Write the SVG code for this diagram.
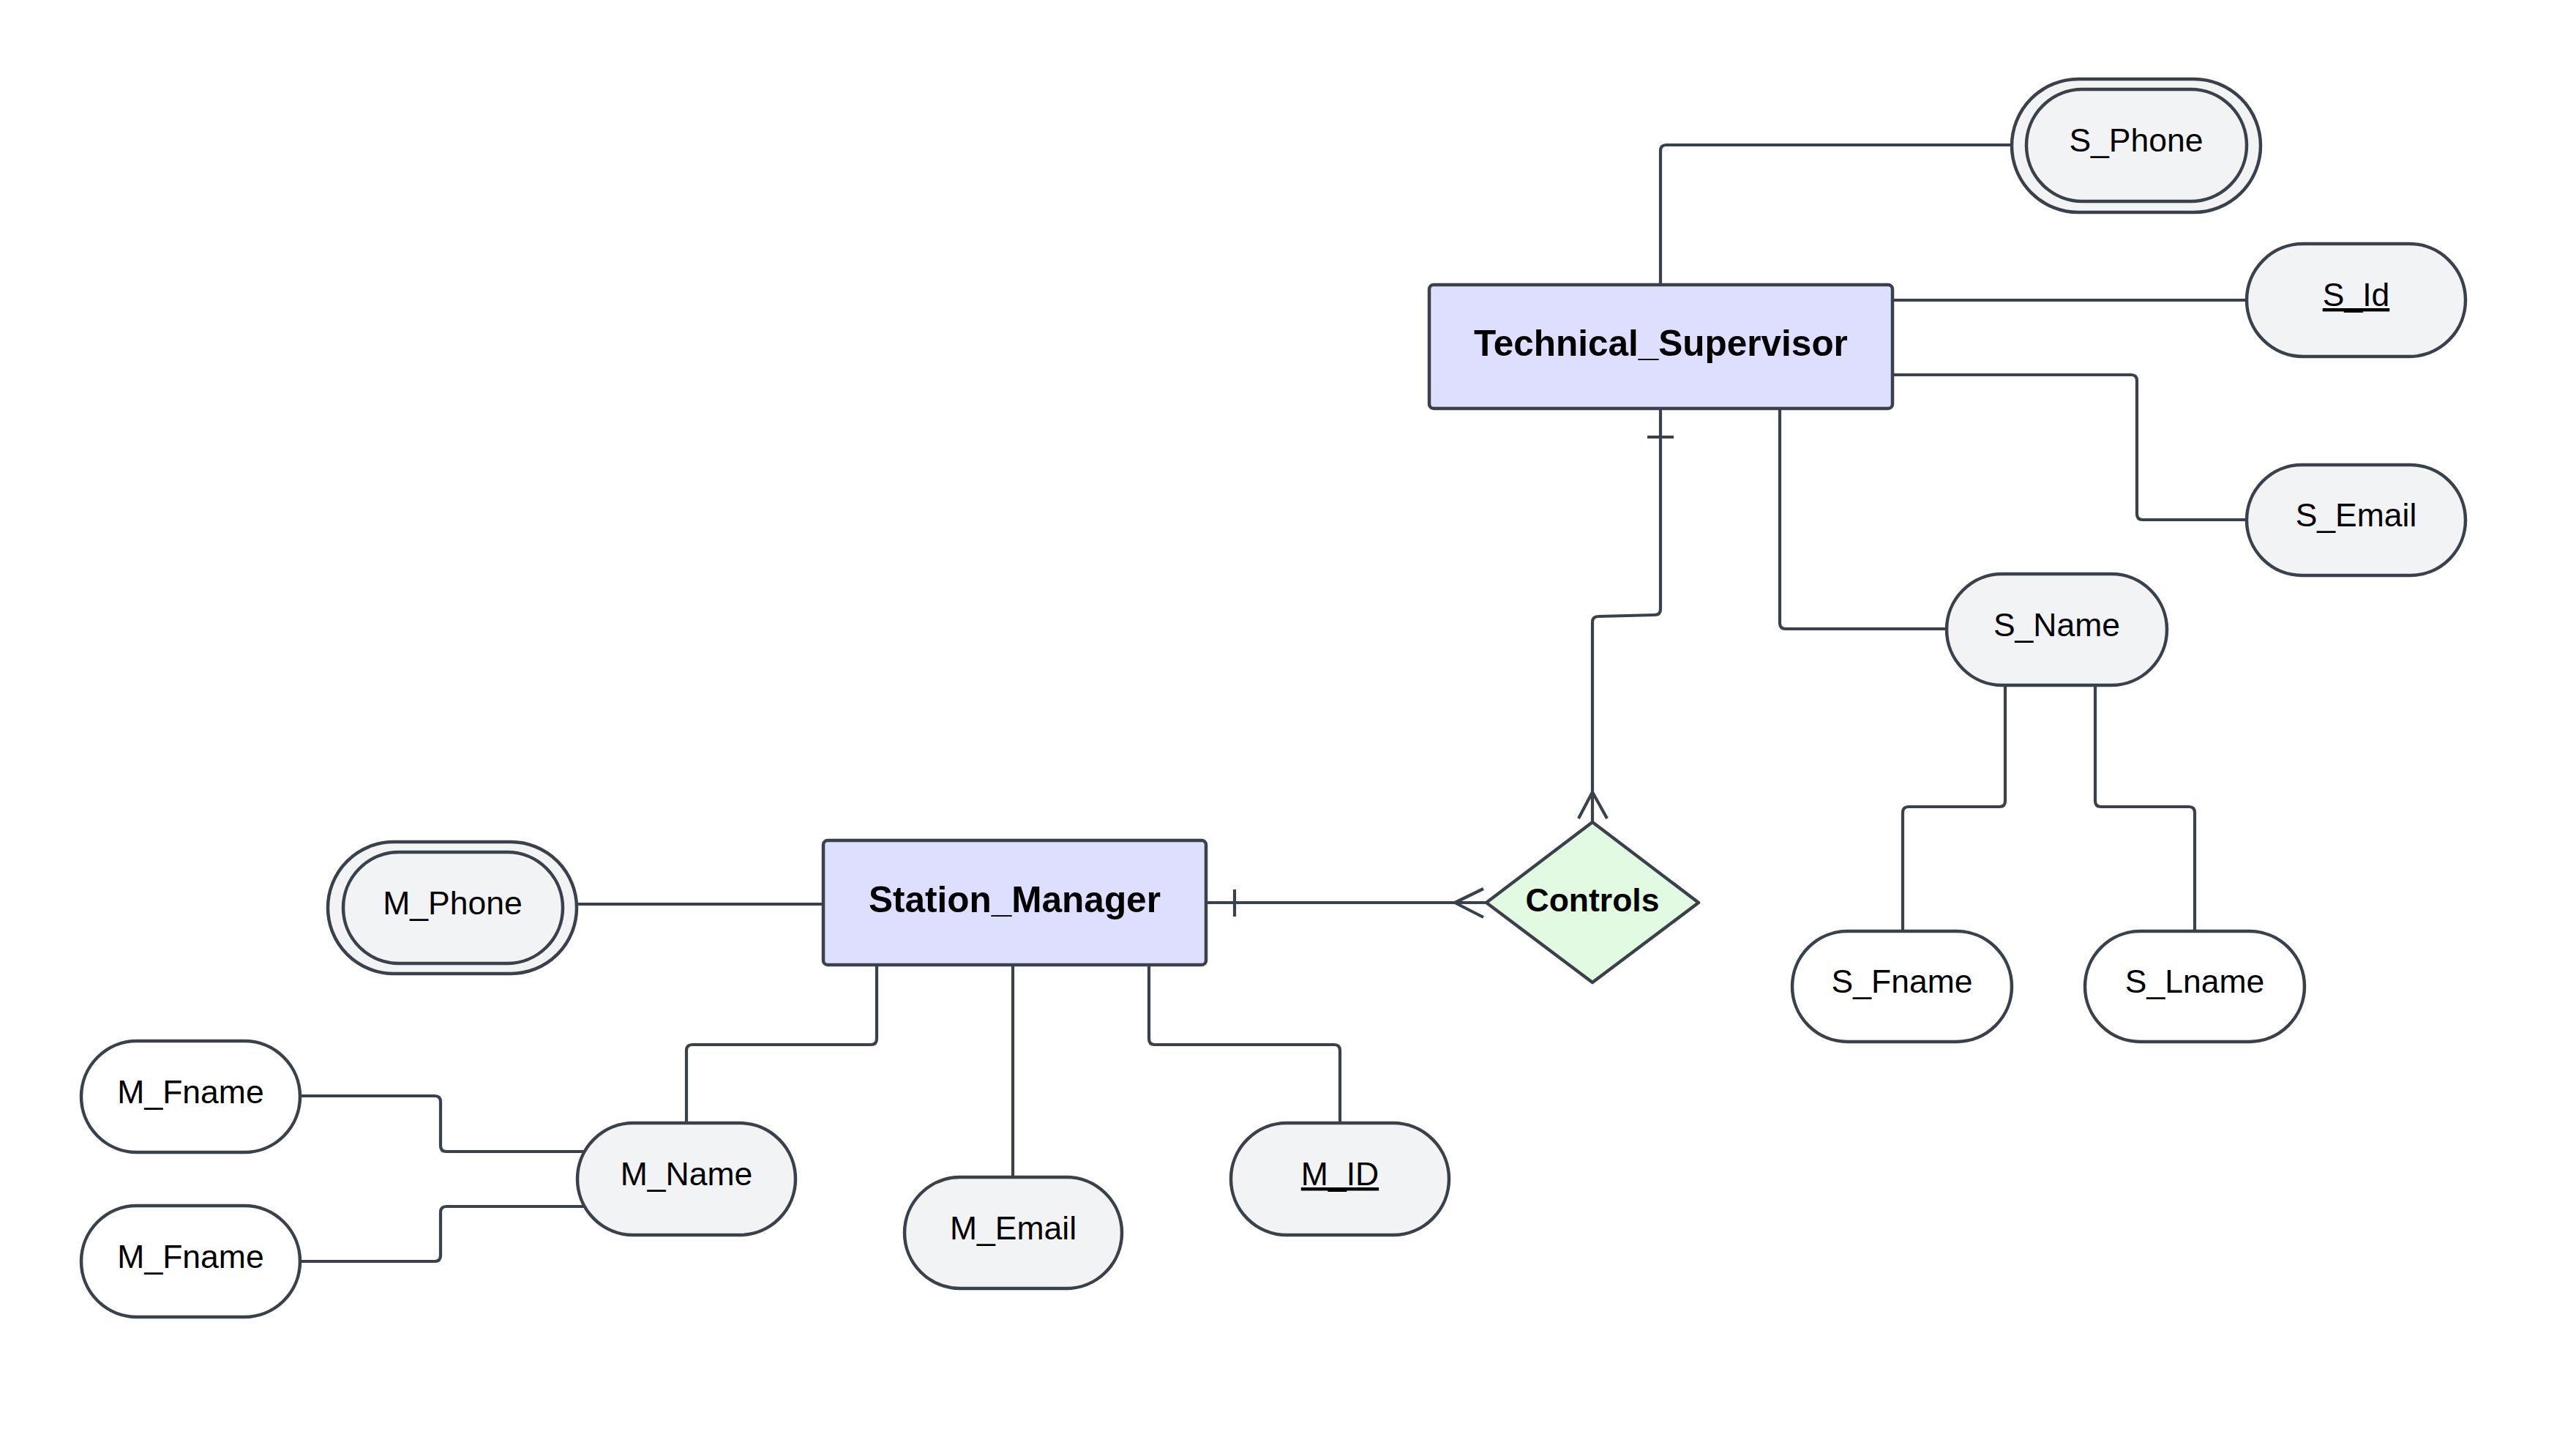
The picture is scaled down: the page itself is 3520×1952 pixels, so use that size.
<svg xmlns="http://www.w3.org/2000/svg" width="3520" height="1952" viewBox="0 0 3520 1952">
<style>
.ent{fill:#dedeff;stroke:#3a414a;stroke-width:4.5}
.att{fill:#f2f3f5;stroke:#3a414a;stroke-width:4.5}
.attw{fill:#ffffff;stroke:#3a414a;stroke-width:4.5}
.rel{fill:#e2f9e2;stroke:#3a414a;stroke-width:4.5;stroke-linejoin:round}
.con path{fill:none;stroke:#3a414a;stroke-width:4.2;stroke-linejoin:round}
.t{font-family:"Liberation Sans",Arial,sans-serif;font-size:44.5px;fill:#000;text-anchor:middle}
.tb{font-family:"Liberation Sans",Arial,sans-serif;font-size:49.5px;font-weight:bold;fill:#000;text-anchor:middle}
.tr{font-family:"Liberation Sans",Arial,sans-serif;font-size:44.5px;font-weight:bold;fill:#000;text-anchor:middle}
</style>
<rect width="3520" height="1952" fill="#ffffff"/>
<g class="con" id="connectors">
<path d="M2269,389 V206 Q2269,198 2277,198 H2749"/>
<path d="M2586,410 H3070"/>
<path d="M2586,512 H2912 Q2920,512 2920,520 V702 Q2920,710 2928,710 H3070"/>
<path d="M2432,558 V851 Q2432,859 2440,859 H2660"/>
<path d="M2740,936 V1094 Q2740,1102 2732,1102 H2608 Q2600,1102 2600,1110 V1272"/>
<path d="M2863,936 V1094 Q2863,1102 2871,1102 H2991 Q2999,1102 2999,1110 V1272"/>
<path d="M2269,558 V832 Q2269,840 2261,840 L2184,842 Q2176,842 2176,850 V1123"/>
<path d="M2251,597 H2287"/>
<path d="M2157,1118 L2176,1082 L2196,1118"/>
<path d="M1648,1233 H2031"/>
<path d="M1687,1215 V1252"/>
<path d="M2027,1214 L1988,1233 L2027,1253"/>
<path d="M788,1235 H1125"/>
<path d="M1198,1318 V1419 Q1198,1427 1190,1427 H946 Q938,1427 938,1435 V1534"/>
<path d="M1384,1318 V1608"/>
<path d="M1570,1318 V1419 Q1570,1427 1578,1427 H1823 Q1831,1427 1831,1435 V1534"/>
<path d="M410,1497 H594 Q602,1497 602,1505 V1565 Q602,1573 610,1573 H798"/>
<path d="M410,1723 H594 Q602,1723 602,1715 V1656 Q602,1648 610,1648 H799"/>
</g>
<g id="technical_supervisor">
<rect class="ent" x="1953" y="389" width="633" height="169" rx="6"/>
<text class="tb" x="2269.5" y="486">Technical_Supervisor</text>
</g>
<g id="station_manager">
<rect class="ent" x="1125" y="1148" width="523" height="170" rx="6"/>
<text class="tb" x="1386.5" y="1246">Station_Manager</text>
</g>
<g id="controls">
<path class="rel" d="M2176,1123 L2321,1233 L2176,1342 L2031,1233 Z"/>
<text class="tr" x="2176" y="1245">Controls</text>
</g>
<g id="s_phone">
<rect class="att" x="2749" y="108" width="340" height="182" rx="91"/>
<rect class="att" x="2769" y="122" width="301" height="153" rx="76.5"/>
<text class="t" x="2919" y="207">S_Phone</text>
</g>
<g id="s_id">
<rect class="att" x="3070" y="333" width="299" height="154" rx="77"/>
<text class="t" x="3219.5" y="418" text-decoration="underline">S_Id</text>
</g>
<g id="s_email">
<rect class="att" x="3070" y="635" width="299" height="151" rx="75.5"/>
<text class="t" x="3219.5" y="719">S_Email</text>
</g>
<g id="s_name">
<rect class="att" x="2660" y="784" width="301" height="152" rx="76"/>
<text class="t" x="2810.5" y="869">S_Name</text>
</g>
<g id="s_fname">
<rect class="attw" x="2449" y="1272" width="300" height="151" rx="75.5"/>
<text class="t" x="2599" y="1356">S_Fname</text>
</g>
<g id="s_lname">
<rect class="attw" x="2849" y="1272" width="300" height="151" rx="75.5"/>
<text class="t" x="2999" y="1356">S_Lname</text>
</g>
<g id="m_phone">
<rect class="att" x="448" y="1150" width="340" height="180" rx="90"/>
<rect class="att" x="469" y="1164" width="300" height="152" rx="76"/>
<text class="t" x="618.5" y="1249">M_Phone</text>
</g>
<g id="m_fname_1">
<rect class="attw" x="111" y="1422" width="299" height="152" rx="76"/>
<text class="t" x="260.5" y="1507">M_Fname</text>
</g>
<g id="m_fname_2">
<rect class="attw" x="111" y="1647" width="299" height="152" rx="76"/>
<text class="t" x="260.5" y="1732">M_Fname</text>
</g>
<g id="m_name">
<rect class="att" x="789" y="1534" width="298" height="153" rx="76.5"/>
<text class="t" x="938" y="1619">M_Name</text>
</g>
<g id="m_email">
<rect class="att" x="1236" y="1608" width="297" height="152" rx="76"/>
<text class="t" x="1384.5" y="1693">M_Email</text>
</g>
<g id="m_id">
<rect class="att" x="1682" y="1534" width="298" height="153" rx="76.5"/>
<text class="t" x="1831" y="1619" text-decoration="underline">M_ID</text>
</g>
</svg>
